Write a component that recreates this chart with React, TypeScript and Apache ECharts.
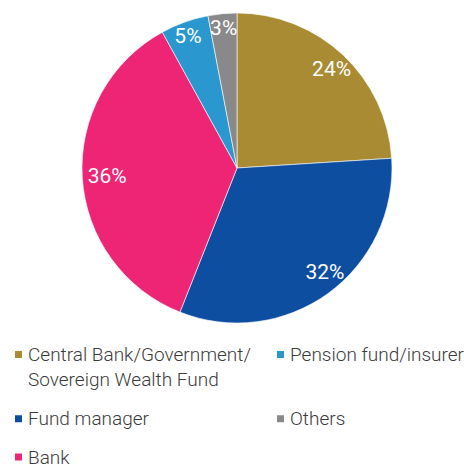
import React, { useEffect, useRef } from "react";
import * as echarts from "echarts";

const categories = [
  "Central Bank/Government/Sovereign Wealth Fund",
  "Fund manager",
  "Bank",
  "Pension fund/insurer",
  "Others",
];
const shares = [24, 32, 36, 5, 3];
const colors = ["#A88B33", "#0E4EA1", "#EE2474", "#2A97CE", "#898989"];
const legendLabels = [
  "\nCentral Bank/Government/\nSovereign Wealth Fund",
  "Fund manager",
  "Bank",
  "Pension fund/insurer",
  "Others",
];

const FONT = "Roboto, 'Noto Sans', sans-serif";

export default function App() {
  const ref = useRef<HTMLDivElement>(null);
  useEffect(() => {
    if (!ref.current) return;
    const chart = echarts.init(ref.current, undefined, { renderer: "svg" });
    const data = categories.map((name, i) => ({
      name,
      value: shares[i],
      itemStyle: { color: colors[i] },
    }));
    // small best-fit nudges for the in-slice labels (px)
    const labelNudge: [number, number][] = [
      [1.5, 0.5],
      [8, -6],
      [6, -0.5],
      [-3, -4.5],
      [-0.5, -4.5],
    ];
    // legend slots: [left, vertical centre of the first text line]
    const slots: [number, number][] = [
      [13, 354.5],
      [13, 418.8],
      [13, 457],
      [275, 354.5],
      [275, 418.8],
    ];
    const legends = categories.map((name, i) => {
      const lines = legendLabels[i].split("\n").length;
      return {
        show: true,
        data: [name],
        left: slots[i][0],
        top: lines > 1 ? slots[i][1] - (lines * 25) / 2 : slots[i][1] - 12.5,
        padding: 0,
        orient: "vertical",
        icon: "rect",
        itemWidth: 9,
        itemHeight: 9,
        itemGap: 0,
        selectedMode: false,
        formatter: (n: string) => legendLabels[categories.indexOf(n)],
        textStyle: {
          fontFamily: FONT,
          fontSize: 19,
          fontWeight: 300,
          color: "#3b3b3b",
          lineHeight: 25,
        },
      };
    });
    chart.setOption({
      animation: false,
      backgroundColor: "#ffffff",
      legend: legends,
      series: [
        {
          type: "pie",
          center: [237, 168],
          radius: [0, 155],
          startAngle: 90,
          clockwise: true,
          silent: true,
          label: { show: false },
          labelLine: { show: false },
          itemStyle: { borderColor: "#ffffff", borderWidth: 0.6 },
          data,
        },
        {
          type: "pie",
          center: [237, 168],
          radius: [111, 155],
          startAngle: 90,
          clockwise: true,
          silent: true,
          itemStyle: { color: "rgba(0,0,0,0)" },
          labelLine: { show: false },
          label: {
            show: true,
            position: "inside",
            formatter: "{c}%",
            color: "#ffffff",
            fontFamily: FONT,
            fontSize: 21,
            fontWeight: 400,
          },
          data: categories.map((name, i) => ({
            name,
            value: shares[i],
            label: { offset: labelNudge[i] },
          })),
        },
      ],
    });
    return () => chart.dispose();
  }, []);
  return (
    <div
      ref={ref}
      style={{ position: "fixed", left: 0, top: 0, width: 464, height: 467 }}
    />
  );
}
